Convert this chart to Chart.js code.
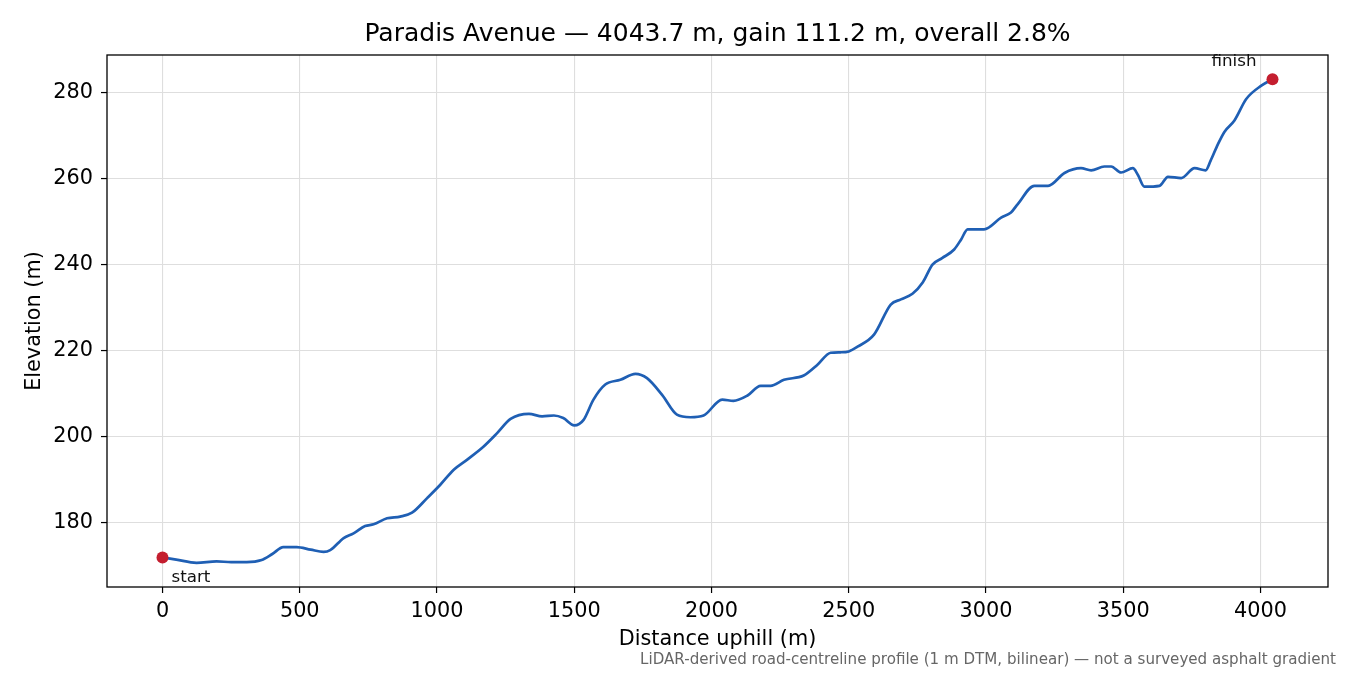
<!DOCTYPE html>
<html lang="en">
<head>
  <meta charset="UTF-8">
  <title>Paradis Avenue profile</title>
  <style>
    html, body { margin: 0; padding: 0; background: #ffffff; }
    #wrap { position: relative; width: 1350px; height: 675px; }
  </style>
</head>
<body>
  <div id="wrap"><canvas id="perfil" width="1350" height="675"></canvas></div>

<script src="https://cdn.jsdelivr.net/npm/chart.js"></script>
<script>
  const distancias = [0, 50, 124, 197, 250, 307, 361, 400, 440, 489, 540, 587, 611, 660, 696, 738, 769, 818, 866, 909,
    964, 1012, 1061, 1109, 1170, 1219, 1268, 1335, 1383, 1426, 1460, 1500, 1534, 1570, 1613, 1668, 1723, 1765, 1820, 1874,
    1923, 1971, 2039, 2080, 2130, 2179, 2215, 2264, 2336, 2386, 2434, 2470, 2500, 2532, 2592, 2653, 2690, 2732, 2770, 2805,
    2840, 2884, 2910, 2933, 2993, 3055, 3091, 3115, 3176, 3226, 3286, 3346, 3383, 3431, 3456, 3492, 3535, 3553, 3577, 3632,
    3663, 3711, 3760, 3800, 3818, 3845, 3869, 3905, 3948, 4003, 4043.7];
  const elevacoes = [172.0, 171.5, 170.75, 171.1, 170.9, 170.9, 171.4, 172.8, 174.4, 174.4, 173.8, 173.3, 173.7, 176.5, 177.6, 179.3, 179.7, 181.1, 181.5, 182.4,
    185.8, 188.9, 192.4, 194.7, 197.8, 200.9, 204.2, 205.4, 204.8, 205.0, 204.4, 202.7, 204.0, 208.7, 212.2, 213.3, 214.7, 213.7, 209.8, 205.2,
    204.6, 205.0, 208.7, 208.4, 209.6, 211.9, 211.9, 213.3, 214.3, 216.8, 219.6, 219.7, 219.9, 221.0, 223.8, 230.8, 232.0, 233.3, 236.0, 240.1,
    241.6, 243.6, 246.0, 248.3, 248.3, 251.0, 252.2, 254.1, 258.4, 258.4, 261.4, 262.5, 262.0, 262.9, 262.9, 261.5, 262.5, 261.0, 258.2, 258.4,
    260.5, 260.2, 262.5, 262.0, 264.2, 268.1, 271.0, 273.6, 278.6, 281.7, 283.2];

  const ticksX = [0, 500, 1000, 1500, 2000, 2500, 3000, 3500, 4000];
  const ticksY = [180, 200, 220, 240, 260, 280];
  const rotulosPontos = ["start", "finish"];

  const titulo = "Paradis Avenue \u2014 4043.7 m, gain 111.2 m, overall 2.8%";
  const tituloX = "Distance uphill (m)";
  const tituloY = "Elevation (m)";
  const nota = "LiDAR-derived road-centreline profile (1 m DTM, bilinear) \u2014 not a surveyed asphalt gradient";

  const FONTE = "'DejaVu Sans', sans-serif";

  const pontosLinha = distancias.map((d, i) => ({ x: d, y: elevacoes[i] }));
  const ultimo = distancias.length - 1;
  const pontosExtremos = [
    { x: distancias[0], y: elevacoes[0] },
    { x: distancias[ultimo], y: elevacoes[ultimo] }
  ];

  // margens de 5% como no matplotlib
  const dx = distancias[ultimo] - distancias[0];
  const yMin = Math.min(...elevacoes), yMax = Math.max(...elevacoes);
  const dy = yMax - yMin;

  // textos, moldura e anotações
  const textosPlugin = {
    id: 'textos',
    afterDraw(chart) {
      const ctx = chart.ctx;
      const a = chart.chartArea;
      const sx = chart.scales.x, sy = chart.scales.y;
      ctx.save();

      // moldura
      ctx.strokeStyle = '#000';
      ctx.lineWidth = 1.3;
      ctx.strokeRect(a.left, a.top, a.right - a.left, a.bottom - a.top);

      ctx.fillStyle = '#000';
      ctx.textBaseline = 'middle';
      ctx.textAlign = 'center';
      ctx.font = `25px ${FONTE}`;
      ctx.fillText(titulo, (a.left + a.right) / 2, 34);

      ctx.font = `20.8px ${FONTE}`;
      ctx.fillText(tituloX, (a.left + a.right) / 2, 640);

      ctx.save();
      ctx.translate(35, (a.top + a.bottom) / 2);
      ctx.rotate(-Math.PI / 2);
      ctx.fillText(tituloY, 0, 0);
      ctx.restore();

      // start / finish
      ctx.font = `16.7px ${FONTE}`;
      ctx.fillStyle = '#111';
      ctx.textAlign = 'left';
      ctx.fillText(rotulosPontos[0], sx.getPixelForValue(pontosExtremos[0].x) + 9, sy.getPixelForValue(pontosExtremos[0].y) + 20);
      ctx.textAlign = 'right';
      ctx.fillText(rotulosPontos[1], sx.getPixelForValue(pontosExtremos[1].x) - 16, sy.getPixelForValue(pontosExtremos[1].y) - 18);

      // nota de rodapé
      ctx.font = `15.1px ${FONTE}`;
      ctx.fillStyle = '#666';
      ctx.textAlign = 'right';
      ctx.fillText(nota, 1336, 660);
      ctx.restore();
    }
  };

  const ctx = document.getElementById('perfil').getContext('2d');
  new Chart(ctx, {
    type: 'line',
    data: {
      datasets: [
        {
          label: 'Perfil',
          data: pontosLinha,
          borderColor: '#1f5fb4',
          borderWidth: 2.7,
          pointRadius: 0,
          fill: false,
          cubicInterpolationMode: 'monotone',
          order: 2
        },
        {
          label: 'Extremos',
          data: pontosExtremos,
          showLine: false,
          pointRadius: 6,
          pointBackgroundColor: '#c41e2f',
          pointBorderColor: '#c41e2f',
          pointBorderWidth: 0,
          order: 1
        }
      ]
    },
    options: {
      responsive: false,
      animation: false,
      devicePixelRatio: 1,
      layout: { padding: { left: 0, top: 55, right: 22, bottom: 0 } },
      plugins: {
        legend: { display: false },
        tooltip: { enabled: false },
        title: { display: false }
      },
      scales: {
        x: {
          type: 'linear',
          min: distancias[0] - 0.05 * dx,
          max: distancias[ultimo] + 0.05 * dx,
          afterBuildTicks: (s) => { s.ticks = ticksX.map(v => ({ value: v })); },
          afterFit: (s) => { s.height = 88; },
          border: { display: false },
          grid: { color: '#dedede', lineWidth: 1.1, tickColor: '#000', tickLength: 6, tickWidth: 1.2 },
          ticks: { color: '#000', font: { family: FONTE, size: 20.8 }, padding: 6, maxRotation: 0,
            callback: (v) => String(v) }
        },
        y: {
          type: 'linear',
          min: yMin - 0.05 * dy,
          max: yMax + 0.05 * dy,
          afterBuildTicks: (s) => { s.ticks = ticksY.map(v => ({ value: v })); },
          afterFit: (s) => { s.width = 107; },
          border: { display: false },
          grid: { color: '#dedede', lineWidth: 1.1, tickColor: '#000', tickLength: 6, tickWidth: 1.2 },
          ticks: { color: '#000', font: { family: FONTE, size: 20.8 }, padding: 8,
            callback: (v) => String(v) }
        }
      }
    },
    plugins: [textosPlugin]
  });
</script>
</body>
</html>
